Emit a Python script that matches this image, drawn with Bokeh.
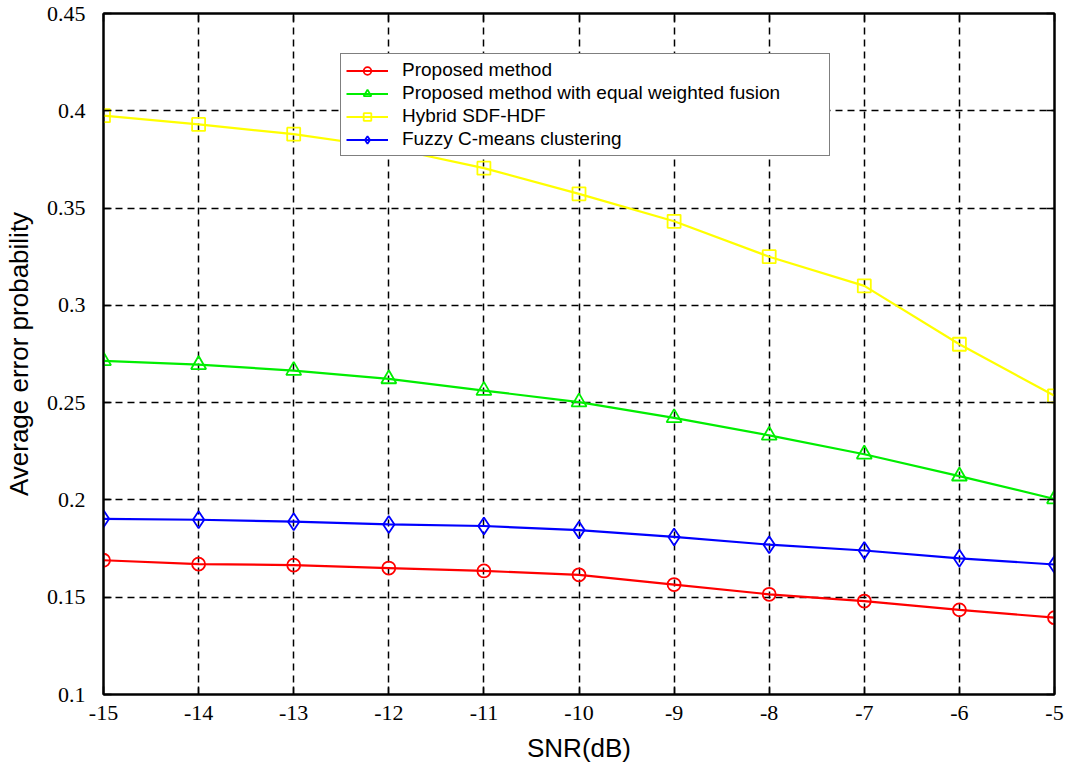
from bokeh.plotting import figure
from bokeh.models import LinearAxis, FixedTicker, Range1d, Legend
from bokeh.embed import file_html
from bokeh.resources import INLINE

snr = [-15, -14, -13, -12, -11, -10, -9, -8, -7, -6, -5]
proposed = [0.169, 0.167, 0.1665, 0.165, 0.1635, 0.1615, 0.1565, 0.1515, 0.148, 0.1435, 0.1395]
equal_weighted = [0.2715, 0.2695, 0.2665, 0.2622, 0.2562, 0.2503, 0.2422, 0.2332, 0.2235, 0.2122, 0.2005]
hybrid = [0.3975, 0.393, 0.388, 0.381, 0.3705, 0.3573, 0.3432, 0.325, 0.310, 0.280, 0.2535]
fuzzy = [0.1903, 0.1898, 0.1888, 0.1874, 0.1866, 0.1845, 0.181, 0.177, 0.174, 0.170, 0.1668]

x_ticks = [-15, -14, -13, -12, -11, -10, -9, -8, -7, -6, -5]
y_ticks = [0.1, 0.15, 0.2, 0.25, 0.3, 0.35, 0.4, 0.45]
y_tick_labels = {0.1: "0.1", 0.15: "0.15", 0.2: "0.2", 0.25: "0.25", 0.3: "0.3", 0.35: "0.35", 0.4: "0.4", 0.45: "0.45"}
x_tick_labels = {t: str(t) for t in x_ticks}

p = figure(width=1064, height=770, output_backend="svg", toolbar_location=None,
           x_range=Range1d(-15, -5), y_range=Range1d(0.1, 0.45),
           min_border_left=103, min_border_right=10, min_border_top=13, min_border_bottom=76)
p.background_fill_color = "white"
p.border_fill_color = "white"
p.outline_line_color = "black"
p.outline_line_width = 2

serif = "Liberation Serif"
sans = "Liberation Sans"

for ax in (p.xaxis[0], p.yaxis[0]):
    ax.major_tick_in = 8
    ax.major_tick_out = 0
    ax.minor_tick_line_color = None
    ax.axis_line_width = 2
    ax.axis_line_color = "black"
    ax.major_tick_line_width = 1.5
    ax.major_label_text_font = serif
    ax.major_label_text_font_size = "22px"
    ax.major_label_text_color = "black"
    ax.axis_label_text_font = sans
    ax.axis_label_text_font_size = "26px"
    ax.axis_label_text_font_style = "normal"
    ax.axis_label_text_color = "black"

p.xaxis[0].ticker = FixedTicker(ticks=x_ticks)
p.xaxis[0].major_label_overrides = x_tick_labels
p.xaxis[0].major_label_standoff = 11
p.xaxis[0].axis_label = "SNR(dB)"
p.xaxis[0].axis_label_standoff = 10

p.yaxis[0].ticker = FixedTicker(ticks=y_ticks)
p.yaxis[0].major_label_overrides = y_tick_labels
p.yaxis[0].major_label_standoff = 18
p.yaxis[0].axis_label = "Average error probability"
p.yaxis[0].axis_label_standoff = 10

top = LinearAxis(ticker=FixedTicker(ticks=x_ticks))
top.major_label_overrides = {t: "" for t in x_ticks}
right = LinearAxis(ticker=FixedTicker(ticks=y_ticks))
right.major_label_overrides = {t: "" for t in y_ticks}
for ax in (top, right):
    ax.major_tick_in = 8
    ax.major_tick_out = 0
    ax.minor_tick_line_color = None
    ax.major_label_standoff = 0
    ax.axis_line_width = 2
    ax.major_tick_line_width = 1.5
p.add_layout(top, "above")
p.add_layout(right, "right")

p.xgrid.ticker = FixedTicker(ticks=x_ticks)
p.ygrid.ticker = FixedTicker(ticks=y_ticks)
for g in (p.xgrid[0], p.ygrid[0]):
    g.grid_line_color = "black"
    g.grid_line_dash = "7 5"
    g.grid_line_width = 1.5
    g.grid_line_alpha = 1.0

series = [
    ("Proposed method", proposed, "#ff0000", "circle", 13),
    ("Proposed method with equal weighted fusion", equal_weighted, "#00ee00", "triangle", 15),
    ("Hybrid SDF-HDF", hybrid, "#ffff00", "square", 13),
    ("Fuzzy C-means clustering", fuzzy, "#0000ff", "diamond", 17),
]

items = []
for label, ys, color, marker, size in series:
    r1 = p.line(snr, ys, line_color=color, line_width=2.2)
    r2 = p.scatter(snr, ys, marker=marker, size=size, line_color=color, line_width=1.8,
                   fill_color=None)
    items.append((label, [r1, r2]))

legend = Legend(items=items, location=(237, 538))
legend.label_text_font = sans
legend.label_text_font_size = "19px"
legend.label_text_color = "black"
legend.border_line_color = "black"
legend.border_line_width = 1.5
legend.background_fill_color = "white"
legend.background_fill_alpha = 1.0
legend.padding = 5
legend.margin = 0
legend.spacing = 1
legend.glyph_height = 19
legend.label_height = 19
legend.glyph_width = 42
legend.label_standoff = 14
legend.label_width = 422
p.add_layout(legend, "center")

open("out.html", "w").write(file_html(p, INLINE))
